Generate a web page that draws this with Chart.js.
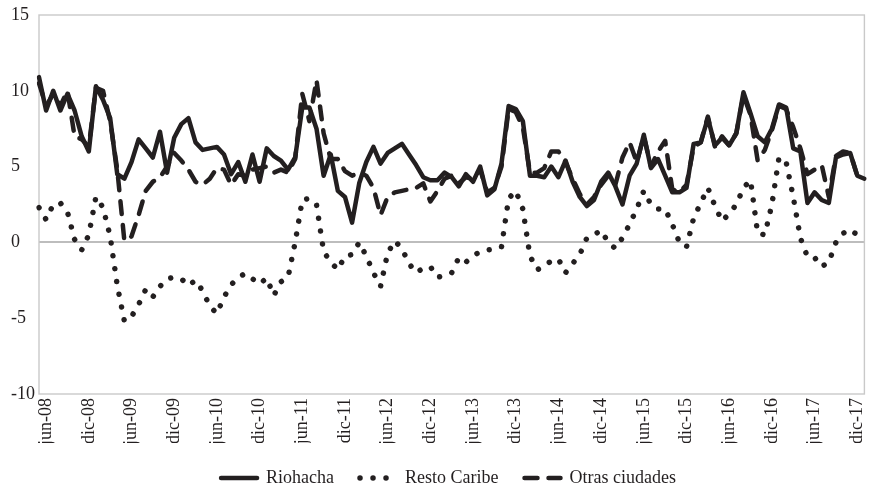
<!DOCTYPE html>
<html lang="es">
<head>
<meta charset="utf-8">
<title>Riohacha, Resto Caribe y Otras ciudades</title>
<script src="https://cdn.jsdelivr.net/npm/chart.js@4/dist/chart.umd.min.js"></script>
<style>
    html, body { margin: 0; padding: 0; background: #fff; }
    #wrap { width: 890px; height: 493px; position: relative; }
</style>
</head>
<body>
<div id="wrap"><canvas id="lineChart"></canvas></div>
<script>
// Series values, one per month from may-08 to ene-18
const riohacha = [
    10.9, 8.7, 10.0, 8.7, 9.8, 8.7, 7.0, 6.0, 10.3, 9.4,
    8.2, 4.5, 4.2, 5.3, 6.8, 6.2, 5.6, 7.3, 4.6, 6.9,
    7.8, 8.2, 6.6, 6.1, 6.2, 6.3, 5.8, 4.5, 5.3, 4.0,
    5.8, 4.0, 6.2, 5.7, 5.4, 4.8, 5.6, 8.9, 8.9, 7.5,
    4.4, 5.8, 3.4, 3.0, 1.3, 3.9, 5.3, 6.3, 5.2, 5.9,
    6.2, 6.5, 5.8, 5.1, 4.3, 4.1, 4.1, 4.6, 4.3, 3.7,
    4.5, 4.0, 5.0, 3.1, 3.5, 5.2, 9.0, 8.8, 8.0, 4.4,
    4.4, 4.3, 5.0, 4.3, 5.4, 4.0, 3.0, 2.4, 2.8, 4.0,
    4.6, 3.7, 2.5, 4.4, 5.2, 7.1, 4.9, 5.5, 4.4, 3.3,
    3.3, 3.6, 6.5, 6.6, 8.2, 6.4, 6.9, 6.4, 7.2, 9.9,
    8.5, 7.0, 6.6, 7.5, 9.1, 8.9, 6.2, 6.0, 2.6, 3.3,
    2.8, 2.6, 5.6, 5.8, 5.9, 4.4, 4.2
];

const restoCaribe = [
    2.3, 1.5, 2.5, 2.6, 2.0, 0.2, -0.5, 0.5, 3.0, 2.3,
    0.4, -2.85, -5.2, -4.9, -4.1, -3.1, -3.6, -2.9, -2.4, -2.3,
    -2.4, -2.85, -2.5, -3.2, -4.2, -4.7, -3.6, -2.8, -2.3, -2.05,
    -2.4, -2.75, -2.35, -3.5, -2.6, -2.3, 0.0, 2.8, 2.9, 2.5,
    -0.6, -1.3, -1.8, -0.9, -0.8, 0.0, -0.9, -2.0, -2.9, -0.7,
    0.1, -0.4, -1.4, -2.0, -1.7, -1.6, -2.3, -2.2, -2.0, -1.0,
    -1.3, -0.9, -0.6, -0.5, -0.45, -0.3, 2.9, 3.4, 2.2, -0.9,
    -1.8, -1.6, -1.2, -1.1, -2.0, -1.4, -0.8, 0.3, 0.5, 0.8,
    0.0, -0.4, 0.3, 1.2, 2.2, 3.4, 2.5, 2.2, 2.2, 1.2,
    0.0, -0.3, 1.6, 2.6, 3.6, 2.4, 1.4, 1.9, 2.5, 3.6,
    4.1, 0.6, 0.5, 2.5, 5.6, 5.3, 3.0, 0.3, -0.95, -1.0,
    -1.6, -1.3, 0.0, 0.6, 0.85, 0.5, 0.4
];

const otrasCiudades = [
    10.5, 9.0, 9.8, 9.0, 10.0, 7.0, 6.8, 6.3, 10.2, 10.0,
    8.0, 4.8, 0.1, 0.4, 1.8, 3.4, 4.0, 4.3, 5.0, 5.9,
    5.4, 4.8, 4.0, 3.8, 4.2, 4.9, 4.8, 3.8, 4.5, 4.4,
    4.8, 4.9, 5.0, 4.6, 4.8, 4.6, 5.5, 9.8, 8.0, 10.7,
    7.2, 5.5, 5.5, 4.7, 4.4, 4.6, 4.4, 3.6, 1.8, 3.0,
    3.3, 3.4, 3.5, 3.6, 3.9, 2.7, 3.4, 4.2, 4.4, 3.9,
    4.3, 4.2, 4.8, 3.3, 3.6, 5.0, 8.8, 8.6, 7.6, 4.6,
    4.6, 4.9, 6.0, 6.0, 5.3, 4.2, 3.2, 2.5, 3.0, 3.8,
    4.4, 3.8, 5.6, 6.6, 5.3, 7.0, 5.0, 6.0, 6.7, 3.5,
    3.3, 3.8, 6.3, 6.6, 8.3, 6.3, 7.0, 6.4, 7.2, 9.7,
    8.4, 5.4, 6.1, 7.4, 9.0, 8.8, 7.6, 6.2, 4.5, 4.8,
    5.1, 3.0, 5.7, 6.0, 5.9, 4.4, 4.2
];

// Axis labels
const tickLabels = [
    'jun-08', 'dic-08', 'jun-09', 'dic-09', 'jun-10', 'dic-10', 'jun-11',
    'dic-11', 'jun-12', 'dic-12', 'jun-13', 'dic-13', 'jun-14', 'dic-14',
    'jun-15', 'dic-15', 'jun-16', 'dic-16', 'jun-17', 'dic-17'
];
const monthNames = ['ene', 'feb', 'mar', 'abr', 'may', 'jun', 'jul', 'ago', 'sep', 'oct', 'nov', 'dic'];
const yTicks = { min: -10, max: 15, step: 5 };

// Month categories, starting may-08
const categories = [];
for (let i = 0; i < riohacha.length; i++) {
    const m = (4 + i) % 12;
    const y = 8 + Math.floor((4 + i) / 12);
    categories.push(monthNames[m] + '-' + String(y).padStart(2, '0'));
}

const ink = '#231f20';
const serif = '"Liberation Serif", "Times New Roman", serif';

// Light grey frame round the plot area
const plotFrame = {
    id: 'plotFrame',
    beforeDatasetsDraw(chart) {
        const { ctx, chartArea: a } = chart;
        ctx.save();
        ctx.strokeStyle = '#c9c9c9';
        ctx.lineWidth = 1.4;
        ctx.strokeRect(a.left, a.top, a.right - a.left, a.bottom - a.top);
        ctx.restore();
    }
};

document.addEventListener('DOMContentLoaded', () => {
    const ctx = document.getElementById('lineChart');
    new Chart(ctx, {
        type: 'line',
        data: {
            labels: categories,
            datasets: [
                {
                    label: 'Riohacha',
                    data: riohacha,
                    borderColor: ink,
                    backgroundColor: ink,
                    borderWidth: 4.5,
                    borderDash: [],
                    borderJoinStyle: 'round',
                    borderCapStyle: 'round',
                    pointRadius: 0,
                    tension: 0
                },
                {
                    label: 'Resto Caribe',
                    data: restoCaribe,
                    borderColor: ink,
                    backgroundColor: ink,
                    borderWidth: 5.5,
                    borderDash: [0.001, 13],
                    borderJoinStyle: 'round',
                    borderCapStyle: 'round',
                    pointRadius: 0,
                    tension: 0
                },
                {
                    label: 'Otras ciudades',
                    data: otrasCiudades,
                    borderColor: ink,
                    backgroundColor: ink,
                    borderWidth: 4.5,
                    borderDash: [13, 11],
                    borderJoinStyle: 'round',
                    borderCapStyle: 'round',
                    pointRadius: 0,
                    tension: 0
                }
            ]
        },
        options: {
            responsive: true,
            maintainAspectRatio: false,
            animation: false,
            layout: { padding: { left: 11, right: 4, top: 15, bottom: -4 } },
            plugins: {
                legend: {
                    position: 'bottom',
                    labels: {
                        usePointStyle: true,
                        pointStyleWidth: 36,
                        boxWidth: 36,
                        boxHeight: 6,
                        padding: 26,
                        color: ink,
                        font: { family: serif, size: 18 },
                        // line samples keep each series' own dash pattern
                        generateLabels(chart) {
                            return chart.data.datasets.map((ds, i) => ({
                                text: ds.label,
                                datasetIndex: i,
                                pointStyle: 'line',
                                fillStyle: ds.borderColor,
                                strokeStyle: ds.borderColor,
                                lineWidth: ds.borderWidth,
                                lineDash: ds.borderDash,
                                lineCap: ds.borderCapStyle,
                                fontColor: ink,
                                hidden: false
                            }));
                        }
                    }
                },
                tooltip: { enabled: false }
            },
            scales: {
                x: {
                    offset: false,
                    grid: { display: false, drawTicks: false },
                    border: { display: false },
                    ticks: {
                        autoSkip: false,
                        minRotation: 90,
                        maxRotation: 90,
                        padding: 4,
                        color: ink,
                        font: { family: serif, size: 18 },
                        callback(value) {
                            const lab = this.getLabelForValue(value);
                            return tickLabels.includes(lab) ? lab : '';
                        }
                    },
                    afterFit(scale) { scale.height = 49; }
                },
                y: {
                    min: yTicks.min,
                    max: yTicks.max,
                    border: { display: false },
                    grid: {
                        drawTicks: false,
                        color: c => c.tick.value === 0 ? '#bdbdbd' : 'rgba(0,0,0,0)',
                        lineWidth: c => c.tick.value === 0 ? 2 : 0
                    },
                    ticks: {
                        stepSize: yTicks.step,
                        crossAlign: 'far',
                        padding: 0,
                        color: ink,
                        font: { family: serif, size: 18 }
                    },
                    afterFit(scale) { scale.width = 28; }
                }
            }
        },
        plugins: [plotFrame]
    });
});
</script>
</body>
</html>
